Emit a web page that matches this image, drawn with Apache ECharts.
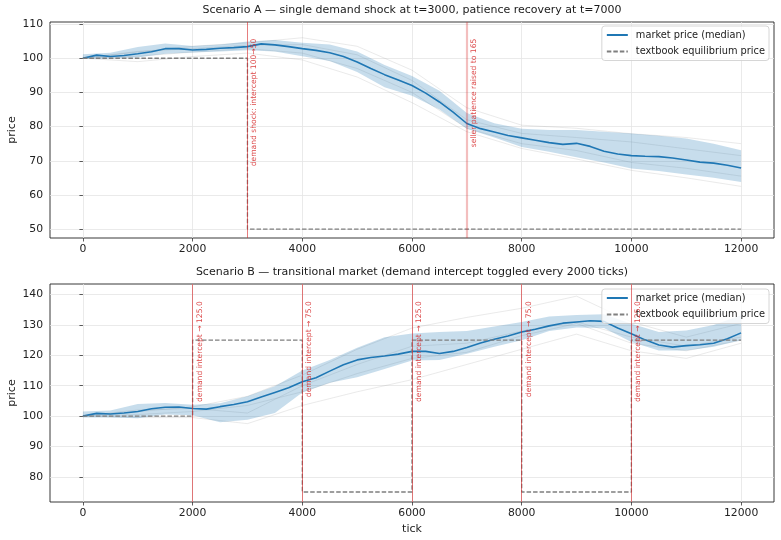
<!DOCTYPE html>
<html>
<head>
<meta charset="utf-8">
<script src="https://cdn.jsdelivr.net/npm/echarts@6/dist/echarts.min.js"></script>
<style>html,body{margin:0;padding:0;background:#fff}#chart{width:781px;height:540px}</style>
</head>
<body>
<div id="chart"></div>
<script>
// tick labels
const xTicks = [0, 2000, 4000, 6000, 8000, 10000, 12000];
const yTicksA = [50, 60, 70, 80, 90, 100, 110];
const yTicksB = [80, 90, 100, 110, 120, 130, 140];

// sampling of the read-off curves (ticks)
const medStep = 250, bandStep = 500, runStep = 1000;

// Scenario A: median price, 0..12000 every 250
const medianA = [100.0, 100.9, 100.5, 100.8, 101.3, 101.9, 102.8, 102.8, 102.4, 102.6,
  102.9, 103.1, 103.4, 104.2, 103.9, 103.4, 102.8, 102.3, 101.6, 100.5,
  98.9, 97.0, 95.2, 93.6, 92.0, 89.8, 87.2, 84.2, 80.9, 79.4,
  78.4, 77.4, 76.7, 76.0, 75.3, 74.8, 75.1, 74.2, 72.8, 72.0,
  71.5, 71.3, 71.2, 70.8, 70.2, 69.6, 69.3, 68.7, 67.9];
// Scenario A: band, every 500
const bandLoA = [99.8, 99.9, 100.2, 101.3, 101.7, 102.0, 102.3, 102.0, 100.6, 99.2,
  96.0, 91.5, 89.0, 85.0, 79.4, 76.8, 74.0, 72.6, 71.0, 69.5, 67.7, 67.0, 66.0, 65.0, 63.8];
const bandHiA = [101.2, 101.6, 103.3, 104.3, 103.6, 104.0, 104.9, 105.3, 104.5, 104.0,
  102.0, 98.0, 94.8, 90.5, 84.0, 81.0, 79.4, 79.0, 79.0, 78.5, 78.0, 77.3, 76.5, 75.0, 73.1];
// Scenario A: individual runs, every 1000
const runsA = [
  [100, 101.8, 103.5, 104.5, 106.0, 103.5, 96.5, 85.5, 80.4, 79.5, 77.9, 76.8, 75.0],
  [100, 99.0, 100.5, 101.5, 99.5, 94.5, 87.0, 78.5, 73.6, 70.5, 67.2, 65.0, 62.5],
  [100, 102.0, 102.8, 103.8, 104.0, 101.0, 93.5, 82.0, 78.0, 76.8, 75.5, 73.5, 71.5],
  [100, 100.6, 101.8, 102.8, 101.5, 97.0, 90.0, 79.5, 75.0, 73.0, 69.5, 67.8, 65.5]
];
const equilTicksA = [0, 3000, 3000, 12000];
const equilValsA = [100, 100, 50, 50];
const eventTicksA = [3000, 7000];
const eventLabelsA = ['demand shock: intercept 100→50', 'seller patience raised to 165'];

// Scenario B
const medianB = [100.0, 100.9, 100.7, 101.0, 101.5, 102.4, 102.9, 103.0, 102.5, 102.3,
  103.1, 103.8, 104.7, 106.3, 107.8, 109.3, 111.3, 112.6, 114.8, 116.9,
  118.5, 119.3, 119.8, 120.4, 121.3, 121.3, 120.6, 121.3, 122.6, 124.1,
  125.3, 126.4, 127.7, 128.6, 129.7, 130.6, 131.0, 131.4, 131.2, 129.0,
  127.1, 125.1, 123.4, 122.7, 123.2, 123.5, 124.0, 125.5, 127.4];
const bandLoB = [99.5, 99.5, 99.3, 100.5, 100.3, 98.0, 98.8, 101.0, 107.8, 111.0,
  112.8, 115.5, 118.3, 118.5, 120.5, 122.8, 125.0, 128.0, 129.2, 129.0, 124.4, 121.6, 121.6, 122.8, 125.0];
const bandHiB = [101.5, 101.8, 104.0, 104.3, 103.7, 104.2, 106.5, 109.8, 115.0, 118.5,
  122.5, 126.0, 127.2, 127.7, 128.0, 129.5, 131.0, 132.8, 133.3, 133.5, 130.4, 127.7, 128.2, 130.0, 133.2];
const runsB = [
  [100, 101.5, 103.0, 106.5, 113.5, 122.0, 129.0, 132.5, 135.5, 139.5, 131.0, 126.0, 130.5],
  [100, 99.5, 99.5, 97.5, 103.5, 108.0, 112.0, 117.0, 122.0, 127.0, 121.5, 119.0, 124.0],
  [100, 102.0, 102.5, 101.0, 110.0, 117.0, 123.0, 124.0, 128.0, 131.0, 126.0, 123.0, 126.0],
  [100, 100.5, 101.5, 103.5, 108.0, 114.0, 119.0, 121.0, 126.5, 130.5, 124.0, 121.5, 125.0]
];
const equilTicksB = [0, 2000, 2000, 4000, 4000, 6000, 6000, 8000, 8000, 10000, 10000, 12000];
const equilValsB = [100, 100, 125, 125, 75, 75, 125, 125, 75, 75, 125, 125];
const eventTicksB = [2000, 4000, 6000, 8000, 10000];
const eventLabelsB = ['demand intercept → 125.0', 'demand intercept → 75.0', 'demand intercept → 125.0',
  'demand intercept → 75.0', 'demand intercept → 125.0'];

const FONT = 'DejaVu Sans';
const BLUE = '#1f77b4';
const RANGE_A = [47.4, 110.6], RANGE_B = [71.7, 143.5];
const LABEL_TOP_A = 106.6, LABEL_TOP_B = 138.8;  // where the rotated event text ends

function pairs(step, vals) { return vals.map((v, i) => [i * step, v]); }

function bandSeries(idx, lo, hi) {
  return {
    type: 'custom', xAxisIndex: idx, yAxisIndex: idx, silent: true, z: 2,
    data: lo.map((v, i) => [i * bandStep, v, hi[i]]),
    encode: { x: 0, y: [1, 2] },
    renderItem: function (params, api) {
      if (params.dataIndex !== 0) return null;
      const pts = [];
      for (let i = 0; i < hi.length; i++) pts.push(api.coord([i * bandStep, hi[i]]));
      for (let i = lo.length - 1; i >= 0; i--) pts.push(api.coord([i * bandStep, lo[i]]));
      return { type: 'polygon', shape: { points: pts }, style: { fill: 'rgba(31,119,180,0.25)' } };
    }
  };
}

function panelSeries(idx, median, lo, hi, runs, eqT, eqV, evT, evL, wideIdx, yMin, labelTop) {
  const s = [];
  runs.forEach(r => s.push({
    type: 'line', xAxisIndex: idx, yAxisIndex: idx, symbol: 'none', silent: true, z: 1,
    data: pairs(runStep, r), lineStyle: { color: 'rgba(150,150,150,0.25)', width: 0.8 }
  }));
  s.push(bandSeries(idx, lo, hi));
  s.push({
    name: 'market price (median)', type: 'line', xAxisIndex: idx, yAxisIndex: idx,
    symbol: 'none', z: 3, data: pairs(medStep, median), lineStyle: { color: BLUE, width: 1.6 },
    itemStyle: { color: BLUE }
  });
  s.push({
    name: 'textbook equilibrium price', type: 'line', xAxisIndex: idx, yAxisIndex: idx,
    symbol: 'none', z: 4, data: eqT.map((t, i) => [t, eqV[i]]),
    lineStyle: { color: '#7f7f7f', width: 1.3, type: [4.5, 2] }, itemStyle: { color: '#7f7f7f' }
  });
  // event lines, full height
  s.push({
    type: 'line', xAxisIndex: idx, yAxisIndex: idx, data: [], z: 5, silent: true,
    markLine: {
      symbol: ['none', 'none'], silent: true, animation: false, label: { show: false },
      data: evT.map((t, i) => ({
        xAxis: t,
        lineStyle: i === wideIdx
          ? { color: 'rgba(214,39,40,0.3)', width: 2.2, type: 'solid' }
          : { color: 'rgba(214,39,40,0.6)', width: 1, type: 'solid' }
      }))
    }
  });
  // event texts, drawn along invisible lines that stop where the text ends
  s.push({
    type: 'line', xAxisIndex: idx, yAxisIndex: idx, data: [], z: 6, silent: true,
    markLine: {
      symbol: ['none', 'none'], silent: true, animation: false,
      lineStyle: { width: 0, color: 'rgba(0,0,0,0)' },
      label: {
        show: true, position: 'insideEndBottom', distance: 3,
        color: 'rgba(214,39,40,0.85)', fontSize: 7.6, fontFamily: FONT
      },
      data: evT.map((t, i) => [
        { coord: [t, yMin], label: { formatter: evL[i] } },
        { coord: [t, labelTop] }
      ])
    }
  });
  return s;
}

function xAxis(idx, name) {
  return {
    type: 'value', gridIndex: idx, min: -600, max: 12600,
    name: name, nameLocation: 'middle', nameGap: 22, nameMoveOverlap: false,
    nameTextStyle: { fontFamily: FONT, fontSize: 11, color: '#222' },
    axisLine: { show: false },
    axisTick: { show: true, customValues: xTicks, length: 3.5, lineStyle: { color: '#333', width: 0.8 } },
    axisLabel: { customValues: xTicks, fontFamily: FONT, fontSize: 10.8, color: '#222', margin: 6,
      formatter: v => String(v) },
    splitLine: { show: true, lineStyle: { color: '#e4e4e4', width: 0.8 } }
  };
}
function yAxis(idx, range, ticks) {
  return {
    type: 'value', gridIndex: idx, min: range[0], max: range[1],
    name: 'price', nameLocation: 'middle', nameGap: 32, nameMoveOverlap: false,
    nameTextStyle: { fontFamily: FONT, fontSize: 11, color: '#222' },
    axisLine: { show: false },
    axisTick: { show: true, customValues: ticks, length: 3.5, lineStyle: { color: '#333', width: 0.8 } },
    axisLabel: { customValues: ticks, fontFamily: FONT, fontSize: 10.8, color: '#222', margin: 7,
      formatter: v => String(v) },
    splitLine: { show: true, lineStyle: { color: '#e4e4e4', width: 0.8 } }
  };
}
function legend(top) {
  return {
    orient: 'vertical', right: 12, top: top, itemWidth: 21, itemHeight: 8, itemGap: 6.5,
    padding: [4, 4, 4, 4], borderColor: '#cccccc', borderWidth: 0.8, borderRadius: 3,
    backgroundColor: 'rgba(255,255,255,0.8)',
    itemStyle: { opacity: 0 },
    textStyle: { fontFamily: FONT, fontSize: 9.8, color: '#222', padding: [0, 0, 0, 3] },
    data: ['market price (median)', 'textbook equilibrium price']
  };
}

const chart = echarts.init(document.getElementById('chart'), null, { renderer: 'canvas' });
chart.setOption({
  animation: false,
  backgroundColor: '#fff',
  title: [
    { text: 'Scenario A — single demand shock at t=3000, patience recovery at t=7000', left: 412, top: 5, textAlign: 'center', padding: 0,
      textStyle: { fontFamily: FONT, fontSize: 11, fontWeight: 'normal', color: '#1a1a1a' } },
    { text: 'Scenario B — transitional market (demand intercept toggled every 2000 ticks)', left: 412, top: 267, textAlign: 'center', padding: 0,
      textStyle: { fontFamily: FONT, fontSize: 11, fontWeight: 'normal', color: '#1a1a1a' } }
  ],
  legend: [legend(26), legend(289)],
  grid: [
    { left: 50, right: 7, top: 22, height: 216, show: true, borderColor: '#222', borderWidth: 0.9,
      backgroundColor: 'transparent', outerBoundsMode: 'none', containLabel: false },
    { left: 50, right: 7, top: 284, height: 218, show: true, borderColor: '#222', borderWidth: 0.9,
      backgroundColor: 'transparent', outerBoundsMode: 'none', containLabel: false }
  ],
  xAxis: [xAxis(0, ''), xAxis(1, 'tick')],
  yAxis: [yAxis(0, RANGE_A, yTicksA), yAxis(1, RANGE_B, yTicksB)],
  series: [].concat(
    panelSeries(0, medianA, bandLoA, bandHiA, runsA, equilTicksA, equilValsA, eventTicksA, eventLabelsA, 1, RANGE_A[0], LABEL_TOP_A),
    panelSeries(1, medianB, bandLoB, bandHiB, runsB, equilTicksB, equilValsB, eventTicksB, eventLabelsB, -1, RANGE_B[0], LABEL_TOP_B)
  )
});
</script>
</body>
</html>
